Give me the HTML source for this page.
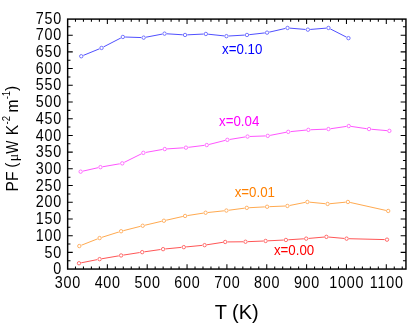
<!DOCTYPE html>
<html><head><meta charset="utf-8"><title>PF vs T</title>
<style>
html,body{margin:0;padding:0;background:#fff;}
body{width:415px;height:333px;overflow:hidden;}
svg{display:block;will-change:transform;}
text{font-family:"Liberation Sans",sans-serif;fill:#000;}
</style></head><body>
<svg width="415" height="333" viewBox="0 0 415 333">
<rect x="0" y="0" width="415" height="333" fill="#ffffff"/>
<path d="M81.25,56.25 L101.55,47.95 L122.85,36.95 L143.65,37.65 L164.55,33.65 L185.05,34.95 L205.85,33.95 L226.45,36.15 L246.95,34.95 L267.05,32.65 L287.55,27.95 L307.85,29.65 L328.45,27.95 L348.45,38.15" fill="none" stroke="#1414ff" stroke-width="0.75" stroke-linejoin="round"/>
<g fill="#fff" stroke="#4a4aff" stroke-width="0.75"><circle cx="81.25" cy="56.25" r="2.45" stroke="none"/><circle cx="101.55" cy="47.95" r="2.45" stroke="none"/><circle cx="122.85" cy="36.95" r="2.45" stroke="none"/><circle cx="143.65" cy="37.65" r="2.45" stroke="none"/><circle cx="164.55" cy="33.65" r="2.45" stroke="none"/><circle cx="185.05" cy="34.95" r="2.45" stroke="none"/><circle cx="205.85" cy="33.95" r="2.45" stroke="none"/><circle cx="226.45" cy="36.15" r="2.45" stroke="none"/><circle cx="246.95" cy="34.95" r="2.45" stroke="none"/><circle cx="267.05" cy="32.65" r="2.45" stroke="none"/><circle cx="287.55" cy="27.95" r="2.45" stroke="none"/><circle cx="307.85" cy="29.65" r="2.45" stroke="none"/><circle cx="328.45" cy="27.95" r="2.45" stroke="none"/><circle cx="348.45" cy="38.15" r="2.45" stroke="none"/><circle cx="81.25" cy="56.25" r="1.7"/><circle cx="101.55" cy="47.95" r="1.7"/><circle cx="122.85" cy="36.95" r="1.7"/><circle cx="143.65" cy="37.65" r="1.7"/><circle cx="164.55" cy="33.65" r="1.7"/><circle cx="185.05" cy="34.95" r="1.7"/><circle cx="205.85" cy="33.95" r="1.7"/><circle cx="226.45" cy="36.15" r="1.7"/><circle cx="246.95" cy="34.95" r="1.7"/><circle cx="267.05" cy="32.65" r="1.7"/><circle cx="287.55" cy="27.95" r="1.7"/><circle cx="307.85" cy="29.65" r="1.7"/><circle cx="328.45" cy="27.95" r="1.7"/><circle cx="348.45" cy="38.15" r="1.7"/></g>
<path d="M80.65,171.65 L100.45,167.15 L122.25,163.35 L143.35,152.85 L164.75,149.05 L185.95,147.65 L206.75,145.05 L227.35,139.85 L247.55,136.55 L267.75,135.85 L288.25,131.85 L308.35,129.85 L328.45,129.05 L348.75,126.05 L369.05,129.05 L389.35,130.85" fill="none" stroke="#ff1cff" stroke-width="0.75" stroke-linejoin="round"/>
<g fill="#fff" stroke="#ff48ff" stroke-width="0.75"><circle cx="80.65" cy="171.65" r="2.45" stroke="none"/><circle cx="100.45" cy="167.15" r="2.45" stroke="none"/><circle cx="122.25" cy="163.35" r="2.45" stroke="none"/><circle cx="143.35" cy="152.85" r="2.45" stroke="none"/><circle cx="164.75" cy="149.05" r="2.45" stroke="none"/><circle cx="185.95" cy="147.65" r="2.45" stroke="none"/><circle cx="206.75" cy="145.05" r="2.45" stroke="none"/><circle cx="227.35" cy="139.85" r="2.45" stroke="none"/><circle cx="247.55" cy="136.55" r="2.45" stroke="none"/><circle cx="267.75" cy="135.85" r="2.45" stroke="none"/><circle cx="288.25" cy="131.85" r="2.45" stroke="none"/><circle cx="308.35" cy="129.85" r="2.45" stroke="none"/><circle cx="328.45" cy="129.05" r="2.45" stroke="none"/><circle cx="348.75" cy="126.05" r="2.45" stroke="none"/><circle cx="369.05" cy="129.05" r="2.45" stroke="none"/><circle cx="389.35" cy="130.85" r="2.45" stroke="none"/><circle cx="80.65" cy="171.65" r="1.7"/><circle cx="100.45" cy="167.15" r="1.7"/><circle cx="122.25" cy="163.35" r="1.7"/><circle cx="143.35" cy="152.85" r="1.7"/><circle cx="164.75" cy="149.05" r="1.7"/><circle cx="185.95" cy="147.65" r="1.7"/><circle cx="206.75" cy="145.05" r="1.7"/><circle cx="227.35" cy="139.85" r="1.7"/><circle cx="247.55" cy="136.55" r="1.7"/><circle cx="267.75" cy="135.85" r="1.7"/><circle cx="288.25" cy="131.85" r="1.7"/><circle cx="308.35" cy="129.85" r="1.7"/><circle cx="328.45" cy="129.05" r="1.7"/><circle cx="348.75" cy="126.05" r="1.7"/><circle cx="369.05" cy="129.05" r="1.7"/><circle cx="389.35" cy="130.85" r="1.7"/></g>
<path d="M79.30,246.05 L99.60,238.05 L121.10,231.25 L142.70,225.75 L163.90,220.75 L185.10,215.95 L205.60,212.75 L226.40,210.55 L246.80,207.85 L267.10,206.75 L287.40,205.95 L307.40,201.95 L327.60,203.95 L347.90,201.95 L388.20,210.95" fill="none" stroke="#ff8c14" stroke-width="0.75" stroke-linejoin="round"/>
<g fill="#fff" stroke="#ff9a38" stroke-width="0.75"><circle cx="79.30" cy="246.05" r="2.45" stroke="none"/><circle cx="99.60" cy="238.05" r="2.45" stroke="none"/><circle cx="121.10" cy="231.25" r="2.45" stroke="none"/><circle cx="142.70" cy="225.75" r="2.45" stroke="none"/><circle cx="163.90" cy="220.75" r="2.45" stroke="none"/><circle cx="185.10" cy="215.95" r="2.45" stroke="none"/><circle cx="205.60" cy="212.75" r="2.45" stroke="none"/><circle cx="226.40" cy="210.55" r="2.45" stroke="none"/><circle cx="246.80" cy="207.85" r="2.45" stroke="none"/><circle cx="267.10" cy="206.75" r="2.45" stroke="none"/><circle cx="287.40" cy="205.95" r="2.45" stroke="none"/><circle cx="307.40" cy="201.95" r="2.45" stroke="none"/><circle cx="327.60" cy="203.95" r="2.45" stroke="none"/><circle cx="347.90" cy="201.95" r="2.45" stroke="none"/><circle cx="388.20" cy="210.95" r="2.45" stroke="none"/><circle cx="79.30" cy="246.05" r="1.7"/><circle cx="99.60" cy="238.05" r="1.7"/><circle cx="121.10" cy="231.25" r="1.7"/><circle cx="142.70" cy="225.75" r="1.7"/><circle cx="163.90" cy="220.75" r="1.7"/><circle cx="185.10" cy="215.95" r="1.7"/><circle cx="205.60" cy="212.75" r="1.7"/><circle cx="226.40" cy="210.55" r="1.7"/><circle cx="246.80" cy="207.85" r="1.7"/><circle cx="267.10" cy="206.75" r="1.7"/><circle cx="287.40" cy="205.95" r="1.7"/><circle cx="307.40" cy="201.95" r="1.7"/><circle cx="327.60" cy="203.95" r="1.7"/><circle cx="347.90" cy="201.95" r="1.7"/><circle cx="388.20" cy="210.95" r="1.7"/></g>
<path d="M79.00,263.25 L99.60,259.15 L121.10,255.45 L142.20,252.15 L163.10,249.15 L183.80,247.15 L204.60,245.15 L225.20,241.95 L245.50,241.75 L265.60,240.95 L285.90,239.95 L306.20,238.65 L326.40,236.85 L346.60,238.65 L387.00,239.65" fill="none" stroke="#ff1c1c" stroke-width="0.75" stroke-linejoin="round"/>
<g fill="#fff" stroke="#ff4040" stroke-width="0.75"><circle cx="79.00" cy="263.25" r="2.45" stroke="none"/><circle cx="99.60" cy="259.15" r="2.45" stroke="none"/><circle cx="121.10" cy="255.45" r="2.45" stroke="none"/><circle cx="142.20" cy="252.15" r="2.45" stroke="none"/><circle cx="163.10" cy="249.15" r="2.45" stroke="none"/><circle cx="183.80" cy="247.15" r="2.45" stroke="none"/><circle cx="204.60" cy="245.15" r="2.45" stroke="none"/><circle cx="225.20" cy="241.95" r="2.45" stroke="none"/><circle cx="245.50" cy="241.75" r="2.45" stroke="none"/><circle cx="265.60" cy="240.95" r="2.45" stroke="none"/><circle cx="285.90" cy="239.95" r="2.45" stroke="none"/><circle cx="306.20" cy="238.65" r="2.45" stroke="none"/><circle cx="326.40" cy="236.85" r="2.45" stroke="none"/><circle cx="346.60" cy="238.65" r="2.45" stroke="none"/><circle cx="387.00" cy="239.65" r="2.45" stroke="none"/><circle cx="79.00" cy="263.25" r="1.7"/><circle cx="99.60" cy="259.15" r="1.7"/><circle cx="121.10" cy="255.45" r="1.7"/><circle cx="142.20" cy="252.15" r="1.7"/><circle cx="163.10" cy="249.15" r="1.7"/><circle cx="183.80" cy="247.15" r="1.7"/><circle cx="204.60" cy="245.15" r="1.7"/><circle cx="225.20" cy="241.95" r="1.7"/><circle cx="245.50" cy="241.75" r="1.7"/><circle cx="265.60" cy="240.95" r="1.7"/><circle cx="285.90" cy="239.95" r="1.7"/><circle cx="306.20" cy="238.65" r="1.7"/><circle cx="326.40" cy="236.85" r="1.7"/><circle cx="346.60" cy="238.65" r="1.7"/><circle cx="387.00" cy="239.65" r="1.7"/></g>
<path d="M75.47,269.05v-2.6 M75.47,19.1v2.6 M83.44,269.05v-2.6 M83.44,19.1v2.6 M91.41,269.05v-2.6 M91.41,19.1v2.6 M99.38,269.05v-2.6 M99.38,19.1v2.6 M107.35,269.05v-4.9 M107.35,19.1v4.9 M115.32,269.05v-2.6 M115.32,19.1v2.6 M123.29,269.05v-2.6 M123.29,19.1v2.6 M131.26,269.05v-2.6 M131.26,19.1v2.6 M139.23,269.05v-2.6 M139.23,19.1v2.6 M147.20,269.05v-4.9 M147.20,19.1v4.9 M155.17,269.05v-2.6 M155.17,19.1v2.6 M163.14,269.05v-2.6 M163.14,19.1v2.6 M171.11,269.05v-2.6 M171.11,19.1v2.6 M179.08,269.05v-2.6 M179.08,19.1v2.6 M187.05,269.05v-4.9 M187.05,19.1v4.9 M195.02,269.05v-2.6 M195.02,19.1v2.6 M202.99,269.05v-2.6 M202.99,19.1v2.6 M210.96,269.05v-2.6 M210.96,19.1v2.6 M218.93,269.05v-2.6 M218.93,19.1v2.6 M226.90,269.05v-4.9 M226.90,19.1v4.9 M234.87,269.05v-2.6 M234.87,19.1v2.6 M242.84,269.05v-2.6 M242.84,19.1v2.6 M250.81,269.05v-2.6 M250.81,19.1v2.6 M258.78,269.05v-2.6 M258.78,19.1v2.6 M266.75,269.05v-4.9 M266.75,19.1v4.9 M274.72,269.05v-2.6 M274.72,19.1v2.6 M282.69,269.05v-2.6 M282.69,19.1v2.6 M290.66,269.05v-2.6 M290.66,19.1v2.6 M298.63,269.05v-2.6 M298.63,19.1v2.6 M306.60,269.05v-4.9 M306.60,19.1v4.9 M314.57,269.05v-2.6 M314.57,19.1v2.6 M322.54,269.05v-2.6 M322.54,19.1v2.6 M330.51,269.05v-2.6 M330.51,19.1v2.6 M338.48,269.05v-2.6 M338.48,19.1v2.6 M346.45,269.05v-4.9 M346.45,19.1v4.9 M354.42,269.05v-2.6 M354.42,19.1v2.6 M362.39,269.05v-2.6 M362.39,19.1v2.6 M370.36,269.05v-2.6 M370.36,19.1v2.6 M378.33,269.05v-2.6 M378.33,19.1v2.6 M386.30,269.05v-4.9 M386.30,19.1v4.9 M394.27,269.05v-2.6 M394.27,19.1v2.6 M402.24,269.05v-2.6 M402.24,19.1v2.6 M67.65,260.75h2.8000000000000003 M405.95,260.75h-3.0 M67.65,252.39h5.1000000000000005 M405.95,252.39h-5.300000000000001 M67.65,244.04h2.8000000000000003 M405.95,244.04h-3.0 M67.65,235.68h5.1000000000000005 M405.95,235.68h-5.300000000000001 M67.65,227.33h2.8000000000000003 M405.95,227.33h-3.0 M67.65,218.97h5.1000000000000005 M405.95,218.97h-5.300000000000001 M67.65,210.62h2.8000000000000003 M405.95,210.62h-3.0 M67.65,202.26h5.1000000000000005 M405.95,202.26h-5.300000000000001 M67.65,193.91h2.8000000000000003 M405.95,193.91h-3.0 M67.65,185.55h5.1000000000000005 M405.95,185.55h-5.300000000000001 M67.65,177.20h2.8000000000000003 M405.95,177.20h-3.0 M67.65,168.84h5.1000000000000005 M405.95,168.84h-5.300000000000001 M67.65,160.49h2.8000000000000003 M405.95,160.49h-3.0 M67.65,152.13h5.1000000000000005 M405.95,152.13h-5.300000000000001 M67.65,143.78h2.8000000000000003 M405.95,143.78h-3.0 M67.65,135.42h5.1000000000000005 M405.95,135.42h-5.300000000000001 M67.65,127.07h2.8000000000000003 M405.95,127.07h-3.0 M67.65,118.71h5.1000000000000005 M405.95,118.71h-5.300000000000001 M67.65,110.36h2.8000000000000003 M405.95,110.36h-3.0 M67.65,102.00h5.1000000000000005 M405.95,102.00h-5.300000000000001 M67.65,93.65h2.8000000000000003 M405.95,93.65h-3.0 M67.65,85.29h5.1000000000000005 M405.95,85.29h-5.300000000000001 M67.65,76.94h2.8000000000000003 M405.95,76.94h-3.0 M67.65,68.58h5.1000000000000005 M405.95,68.58h-5.300000000000001 M67.65,60.23h2.8000000000000003 M405.95,60.23h-3.0 M67.65,51.87h5.1000000000000005 M405.95,51.87h-5.300000000000001 M67.65,43.52h2.8000000000000003 M405.95,43.52h-3.0 M67.65,35.16h5.1000000000000005 M405.95,35.16h-5.300000000000001 M67.65,26.81h2.8000000000000003 M405.95,26.81h-3.0" fill="none" stroke="#000" stroke-width="1.05"/>
<rect x="67.65" y="19.1" width="338.30" height="249.95" fill="none" stroke="#000" stroke-width="1.45"/>
<g font-size="16.2" text-anchor="end" letter-spacing="0.88"><text transform="translate(62.1,274.30) scale(0.885,1)">0</text><text transform="translate(62.1,257.59) scale(0.885,1)">50</text><text transform="translate(62.1,240.88) scale(0.885,1)">100</text><text transform="translate(62.1,224.17) scale(0.885,1)">150</text><text transform="translate(62.1,207.46) scale(0.885,1)">200</text><text transform="translate(62.1,190.75) scale(0.885,1)">250</text><text transform="translate(62.1,174.04) scale(0.885,1)">300</text><text transform="translate(62.1,157.33) scale(0.885,1)">350</text><text transform="translate(62.1,140.62) scale(0.885,1)">400</text><text transform="translate(62.1,123.91) scale(0.885,1)">450</text><text transform="translate(62.1,107.20) scale(0.885,1)">500</text><text transform="translate(62.1,90.49) scale(0.885,1)">550</text><text transform="translate(62.1,73.78) scale(0.885,1)">600</text><text transform="translate(62.1,57.07) scale(0.885,1)">650</text><text transform="translate(62.1,40.36) scale(0.885,1)">700</text><text transform="translate(62.1,23.65) scale(0.885,1)">750</text></g>
<g font-size="16.2" text-anchor="middle" letter-spacing="0.88"><text transform="translate(67.90,287.6) scale(0.885,1)">300</text><text transform="translate(107.75,287.6) scale(0.885,1)">400</text><text transform="translate(147.60,287.6) scale(0.885,1)">500</text><text transform="translate(187.45,287.6) scale(0.885,1)">600</text><text transform="translate(227.30,287.6) scale(0.885,1)">700</text><text transform="translate(267.15,287.6) scale(0.885,1)">800</text><text transform="translate(307.00,287.6) scale(0.885,1)">900</text><text transform="translate(346.85,287.6) scale(0.885,1)">1000</text><text transform="translate(386.70,287.6) scale(0.885,1)">1100</text></g>
<text x="236.7" y="318.7" font-size="20" text-anchor="middle">T (K)</text>
<text transform="translate(17.8,191.4) rotate(-90) scale(0.917,1)" font-size="17">PF<tspan dx="-0.7" dy="-1.2"> (</tspan><tspan font-family="Liberation Serif,serif" font-size="15" dy="1.2" dx="1.4">μ</tspan><tspan dx="0.1" textLength="14.2" lengthAdjust="spacingAndGlyphs">W</tspan><tspan dx="1.3"> K</tspan><tspan font-size="10.5" dy="-7.7" dx="0.47">-2</tspan><tspan dy="7.7" dx="-0.92"> m</tspan><tspan font-size="10.5" dy="-7.7" dx="0.15">-1</tspan><tspan dy="6.5" dx="-0.3">)</tspan></text>
<text transform="translate(222.1,53.7) scale(0.9,1)" font-size="14.8" style="fill:#0000ff">x=0.10</text>
<text transform="translate(219.0,125.9) scale(0.9,1)" font-size="14.8" style="fill:#ff00ff">x=0.04</text>
<text transform="translate(234.7,196.9) scale(0.9,1)" font-size="14.8" style="fill:#ff8000">x=0.01</text>
<text transform="translate(273.9,255.45) scale(0.9,1)" font-size="14.8" style="fill:#ff0000">x=0.00</text>
</svg>
</body></html>
